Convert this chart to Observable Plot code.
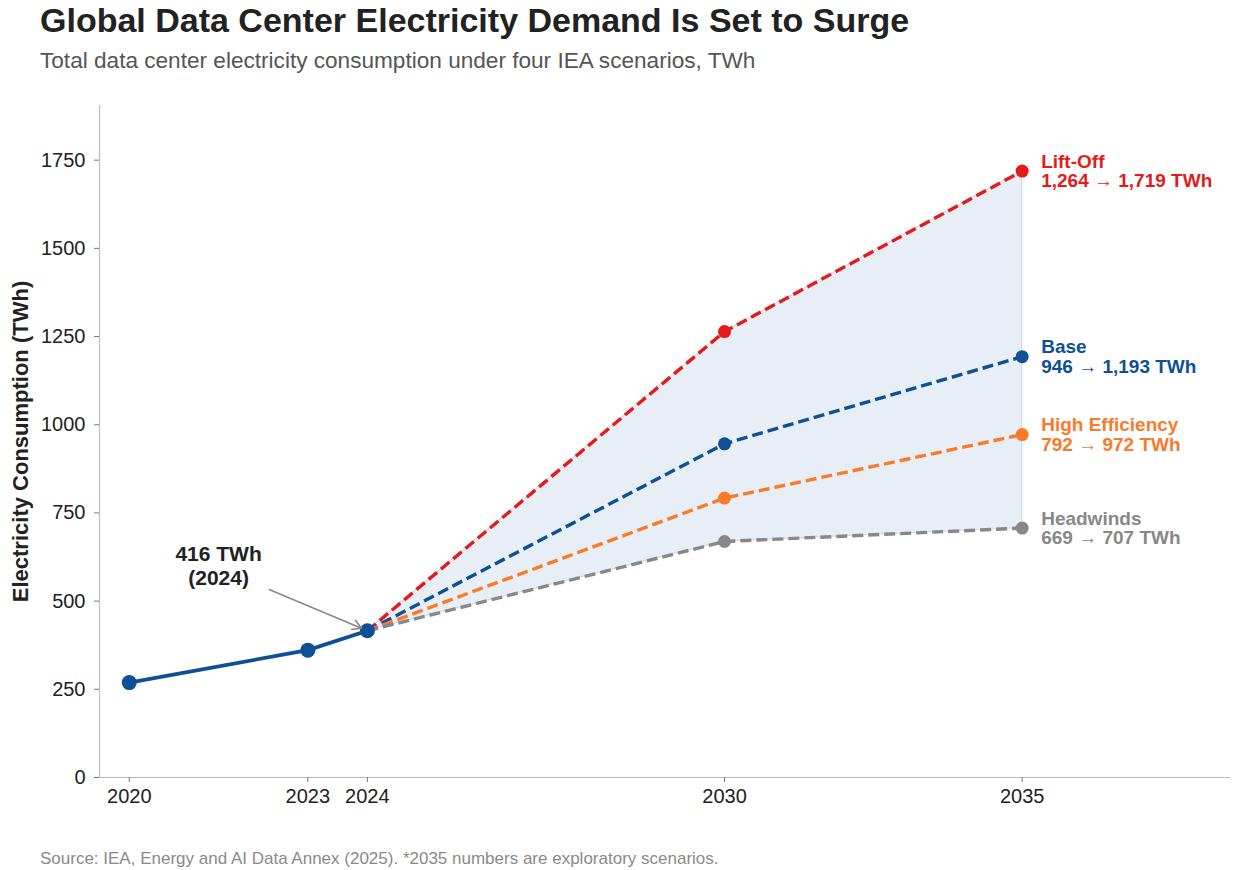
<!DOCTYPE html>
<html>
<head>
<meta charset="utf-8">
<script src="https://cdn.jsdelivr.net/npm/d3@7"></script>
<script src="https://cdn.jsdelivr.net/npm/@observablehq/plot@0.6"></script>
<style>
  html, body { margin: 0; padding: 0; background: #fff; }
  body { width: 1233px; height: 870px; position: relative; overflow: hidden; font-family: "Liberation Sans", Arial, sans-serif; }
  #title { position: absolute; left: 40px; top: 1px; font-size: 34px; font-weight: bold; color: #222; white-space: nowrap; }
  #subtitle { position: absolute; left: 40px; top: 48px; font-size: 22.6px; color: #555; white-space: nowrap; }
  #caption { position: absolute; left: 40px; top: 849px; font-size: 17px; color: #8a8a8a; white-space: nowrap; }
  #chart { position: absolute; left: 0; top: 0; }
</style>
</head>
<body>
<div id="chart"></div>
<div id="title">Global Data Center Electricity Demand Is Set to Surge</div>
<div id="subtitle">Total data center electricity consumption under four IEA scenarios, TWh</div>
<div id="caption">Source: IEA, Energy and AI Data Annex (2025). *2035 numbers are exploratory scenarios.</div>
<script>
// ---- data ----
const histYears = [2020, 2023, 2024];
const histValues = [269, 361, 416];

const scenarioYears = [2024, 2030, 2035];
const scenarioNames = ["Lift-Off", "Base", "High Efficiency", "Headwinds"];
const liftOff = [416, 1264, 1719];
const base = [416, 946, 1193];
const highEfficiency = [416, 792, 972];
const headwinds = [416, 669, 707];
const scenarioColors = ["#e41a1c", "#0f4f96", "#fb7a2a", "#888888"];

const xTicks = [2020, 2023, 2024, 2030, 2035];
const yTicks = [0, 250, 500, 750, 1000, 1250, 1500, 1750];

const annotationText = ["416 TWh\n(2024)"];
const annotationPos = [2021.5, 601];           // text anchor (year, TWh)
const arrowFrom = [2022.35, 533];
const arrowTo = [2023.9, 423];
const yLabel = "Electricity Consumption (TWh)";

// ---- build tables ----
const scenarioSeries = [liftOff, base, highEfficiency, headwinds];
const scen = [];
scenarioNames.forEach((name, i) => {
  scenarioYears.forEach((yr, j) => scen.push({name, year: yr, value: scenarioSeries[i][j], color: scenarioColors[i]}));
});
const band = scenarioYears.map((yr, j) => ({year: yr, lo: headwinds[j], hi: liftOff[j]}));
const hist = histYears.map((yr, i) => ({year: yr, value: histValues[i]}));
const fmt = d3.format(",");
const endLabels = scenarioNames.map((name, i) => ({
  name, year: scenarioYears[2], value: scenarioSeries[i][2], color: scenarioColors[i],
  text: name + "\n" + fmt(scenarioSeries[i][1]) + " \u2192 " + fmt(scenarioSeries[i][2]) + " TWh"
}));
const scenDots = scen.filter(d => d.year !== 2024);
const colorOf = Object.fromEntries(scenarioNames.map((n, i) => [n, scenarioColors[i]]));

const chart = Plot.plot({
  width: 1233,
  height: 870,
  marginTop: 105,
  marginBottom: 93,
  marginLeft: 99,
  marginRight: 3,
  style: {fontFamily: "'Liberation Sans', Arial, sans-serif", fontSize: "20px", color: "#222", background: "transparent"},
  x: {domain: [2019.5, 2038.5]},
  y: {domain: [0, 1905]},
  marks: [
    Plot.areaY(band, {x: "year", y1: "lo", y2: "hi", fill: "#dfe8f2", fillOpacity: 0.75, stroke: "#cfdbe8", strokeWidth: 1.2}),
    Plot.ruleX([2019.5], {stroke: "#bdbdbd", strokeWidth: 1.2}),
    Plot.ruleY([0], {stroke: "#bdbdbd", strokeWidth: 1.2}),
    Plot.axisX({ticks: xTicks, tickFormat: d => String(d), tickSize: 5, tickPadding: 6, stroke: "#777", fill: "#222", fontSize: 20, label: null}),
    Plot.axisY({ticks: yTicks, tickFormat: d => String(d), tickSize: 5, tickPadding: 9, stroke: "#777", fill: "#222", fontSize: 20, label: null}),
    Plot.text([yLabel], {frameAnchor: "left", textAnchor: "middle", rotate: -90, dx: -79, fontSize: 22, fontWeight: "bold", fill: "#222"}),
    Plot.line(scen, {x: "year", y: "value", z: "name", stroke: d => colorOf[d.name], strokeWidth: 3.4, strokeDasharray: "11,5", strokeLinecap: "butt"}),
    Plot.line(hist, {x: "year", y: "value", stroke: "#0f4f96", strokeWidth: 3.8}),
    Plot.dot(hist, {x: "year", y: "value", r: 7.5, fill: "#0f4f96"}),
    Plot.dot(scenDots, {x: "year", y: "value", r: 6.5, fill: d => colorOf[d.name]}),
    Plot.text(endLabels, {x: "year", y: "value", text: "text", dx: 19, textAnchor: "start", lineAnchor: "middle", lineHeight: 1.05, fill: d => d.color, fontWeight: "bold", fontSize: 19}),
    Plot.arrow([0], {x1: () => arrowFrom[0], y1: () => arrowFrom[1], x2: () => arrowTo[0], y2: () => arrowTo[1], stroke: "#888", strokeWidth: 1.5, headLength: 10}),
    Plot.text(annotationText, {x: () => annotationPos[0], y: () => annotationPos[1], text: d => d, fontWeight: "bold", fontSize: 21, lineHeight: 1.15, lineAnchor: "middle", fill: "#222"})
  ]
});
document.getElementById("chart").appendChild(chart);
</script>
</body>
</html>
